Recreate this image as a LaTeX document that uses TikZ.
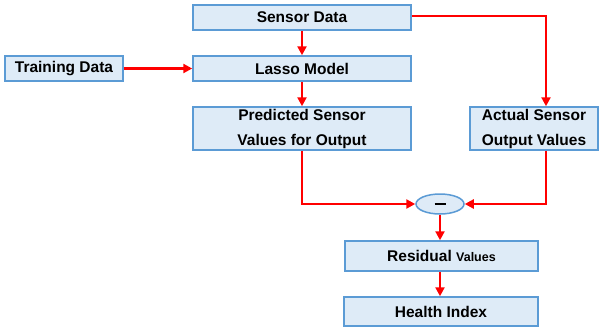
\documentclass[tikz,border=0pt]{standalone}
\usepackage{fontspec}
\setmainfont{Liberation Sans}
\usetikzlibrary{arrows.meta,shapes.geometric}
\definecolor{boxfill}{HTML}{DEEBF7}
\definecolor{boxline}{HTML}{5B9BD5}
\tikzset{
  box/.style={draw=boxline, fill=boxfill, line width=1.5pt, inner sep=0pt, font=\fontsize{15.5}{19}\selectfont\bfseries, align=center},
  link/.style={draw=red, line width=2.4pt, -{Triangle[length=9pt,width=9pt]}}
}
\begin{document}
\begin{tikzpicture}[x=1pt,y=-1pt]
\useasboundingbox (0,0) rectangle (599,327);
\node[box, minimum width=218pt, minimum height=25pt] (sensor) at (302,17.5) {Sensor Data};
\node[box, minimum width=118pt, minimum height=25pt] (train) at (64,68.5) {Training Data};
\node[box, minimum width=218pt, minimum height=25pt] (lasso) at (302,68.5) {Lasso Model};
\node[box, minimum width=218pt, minimum height=43pt] (pred) at (302,128.5) {Predicted Sensor\\[6pt] Values for Output};
\node[box, minimum width=128pt, minimum height=43pt] (actual) at (534,128.5) {Actual Sensor\\[6pt] Output Values};
\node[draw=boxline, fill=boxfill, line width=1.5pt, ellipse, minimum width=48pt, minimum height=20pt, inner sep=0pt] (minus) at (440,204) {\rule[-0.6pt]{11pt}{1.3pt}};
\node[box, minimum width=193pt, minimum height=30pt] (resid) at (441.5,256) {Residual {\fontsize{12.5}{15}\selectfont Values}};
\node[box, minimum width=194pt, minimum height=29pt] (health) at (441,311.5) {Health Index};
\coordinate (c1) at (546,16);
\coordinate (c2) at (302,204);
\coordinate (c3) at (546,204);
\draw[link] (sensor) -- (lasso);
\draw[link] (lasso) -- (pred);
\draw[link] (train) -- (lasso);
\draw[link] (sensor.east |- c1) -- (c1) -- (c1 |- actual.north);
\draw[link] (pred.south) -- (c2) -- (minus.west);
\draw[link] (c3 |- actual.south) -- (c3) -- (minus.east);
\draw[link] (minus.south) -- (minus.south |- resid.north);
\draw[link] (resid.south -| minus.south) -- (health.north -| minus.south);
\end{tikzpicture}
\end{document}
